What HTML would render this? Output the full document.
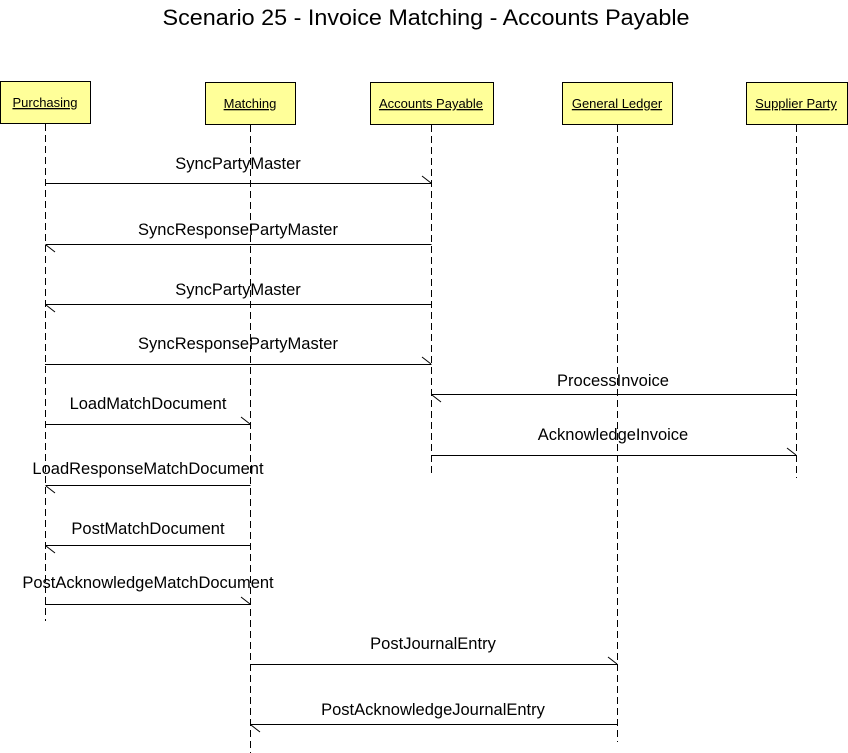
<!DOCTYPE html>
<html><head><meta charset="utf-8"><style>
html,body{margin:0;padding:0;background:#fff;}
svg{display:block;}
text{font-family:"Liberation Sans",Arial,sans-serif;fill:#000;}
</style></head><body>
<svg width="848" height="753" viewBox="0 0 848 753" xmlns="http://www.w3.org/2000/svg">
<text x="426" y="25" font-size="22" text-anchor="middle" textLength="527" lengthAdjust="spacingAndGlyphs">Scenario 25 - Invoice Matching - Accounts Payable</text>
<g fill="#ffff99" stroke="#000" stroke-width="1">
<rect x="0.5" y="81.5" width="90" height="42"/>
<rect x="205.5" y="82.5" width="90" height="42"/>
<rect x="370.5" y="82.5" width="123" height="42"/>
<rect x="562.5" y="82.5" width="110" height="42"/>
<rect x="746.5" y="82.5" width="101" height="42"/>
</g>
<g font-size="13" text-anchor="middle">
<text x="45" y="107" text-decoration="underline">Purchasing</text>
<text x="250" y="108" text-decoration="underline">Matching</text>
<text x="431" y="108" text-decoration="underline">Accounts Payable</text>
<text x="617" y="108" text-decoration="underline">General Ledger</text>
<text x="796" y="108" text-decoration="underline">Supplier Party</text>
</g>
<g stroke="#000" stroke-width="1" stroke-dasharray="7,4">
<line x1="45.5" y1="124" x2="45.5" y2="621"/>
<line x1="250.5" y1="125" x2="250.5" y2="753"/>
<line x1="431.5" y1="125" x2="431.5" y2="474"/>
<line x1="617.5" y1="125" x2="617.5" y2="742"/>
<line x1="796.5" y1="125" x2="796.5" y2="478"/>
</g>
<g stroke="#000" stroke-width="1" fill="none">
<path d="M45 183.5H431.5M422 176L431 183"/>
<path d="M45 364.5H431.5M422 357L431 364"/>
<path d="M45 424.5H250.5M241 417L250 424"/>
<path d="M431 455.5H796.5M787 448L796 455"/>
<path d="M45 604.5H250.5M241 597L250 604"/>
<path d="M250 664.5H617.5M608 657L617 664"/>
<path d="M431.5 244.5H45.5M46 245L55 252"/>
<path d="M431.5 304.5H45.5M46 305L55 312"/>
<path d="M796.5 394.5H431.5M432 395L441 402"/>
<path d="M250.5 485.5H45.5M46 486L55 493"/>
<path d="M250.5 545.5H45.5M46 546L55 553"/>
<path d="M617.5 724.5H250.5M251 725L260 732"/>
</g>
<g font-size="16.5" text-anchor="middle">
<text x="238" y="169">SyncPartyMaster</text>
<text x="238" y="235">SyncResponsePartyMaster</text>
<text x="238" y="295">SyncPartyMaster</text>
<text x="238" y="349">SyncResponsePartyMaster</text>
<text x="613" y="386">ProcessInvoice</text>
<text x="148" y="409">LoadMatchDocument</text>
<text x="613" y="440">AcknowledgeInvoice</text>
<text x="148" y="474">LoadResponseMatchDocument</text>
<text x="148" y="534">PostMatchDocument</text>
<text x="148" y="588">PostAcknowledgeMatchDocument</text>
<text x="433" y="649">PostJournalEntry</text>
<text x="433" y="715">PostAcknowledgeJournalEntry</text>
</g>
</svg>
</body></html>
